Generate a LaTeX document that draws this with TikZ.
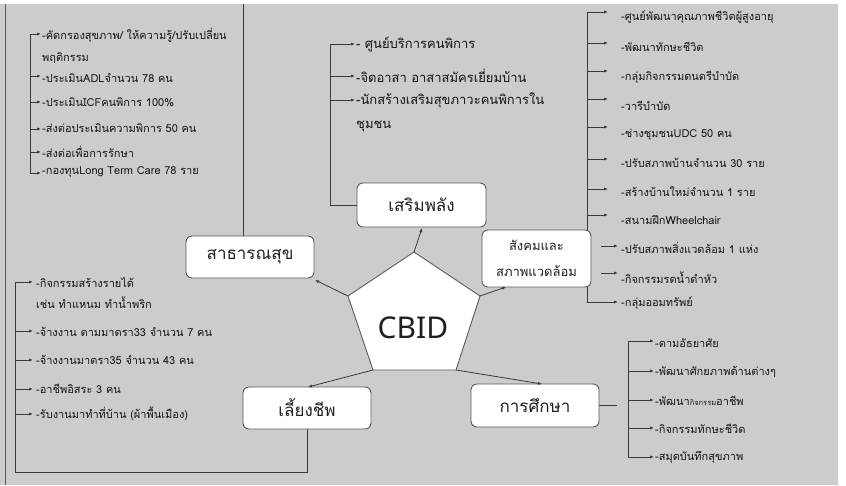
\documentclass[tikz,border=0pt]{standalone}
\usepackage{fontspec}
\newfontfamily\thai[Script=Thai]{Loma}
\newfontfamily\cbidfont{Noto Sans}
\usetikzlibrary{arrows.meta}
\definecolor{bg}{HTML}{CBCCCE}
\definecolor{ln}{HTML}{3A3A3A}
\definecolor{bd}{HTML}{5A5A5A}
\tikzset{
  ln/.style={draw=ln, line width=0.8pt},
  arr/.style={draw=ln, line width=0.8pt, -{Latex[length=4pt,width=3.2pt]}},
  box/.style={draw=bd, line width=0.9pt, fill=white, rounded corners=6pt, inner sep=0pt, text=black!88},
  bigfont/.style={font=\thai\fontsize{17}{20}\selectfont},
  item/.style={anchor=west, inner sep=1pt, text=black!92, font=\thai\fontsize{11}{13}\selectfont},
  itemb/.style={anchor=west, inner sep=1pt, text=black!92, font=\thai\fontsize{13}{15}\selectfont},
}
\begin{document}
\begin{tikzpicture}[x=1pt,y=-1pt]
\fill[white] (0,0) rectangle (846,485);
\fill[bg] (0,4) rectangle (838,485);
\useasboundingbox (0,0) rectangle (846,485);
\coordinate (lbT) at (5,4);
\coordinate (lbB) at (5,485);
\draw[ln, draw=bd] (lbT) -- (lbB);

% ---------- boxes ----------
\node[box, bigfont, minimum width=129pt, minimum height=44pt] (sp) at (421.5,205) {เสริมพลัง};
\node[box, bigfont, minimum width=128pt, minimum height=42pt] (ph) at (250,257) {สาธารณสุข};
\node[box, font=\thai\fontsize{13}{26}\selectfont, align=center, minimum width=109pt, minimum height=57pt] (so) at (536.5,258.5) {สังคมและ\\สภาพแวดล้อม};
\node[box, bigfont, minimum width=128pt, minimum height=42pt] (lv) at (307,408) {เลี้ยงชีพ};
\node[box, bigfont, minimum width=128pt, minimum height=43pt] (ed) at (535,405.5) {การศึกษา};

% ---------- pentagon ----------
\coordinate (p1) at (414,252);
\coordinate (p2) at (348,296);
\coordinate (p3) at (373,370);
\coordinate (p4) at (456,370);
\coordinate (p5) at (480,296);
\draw[draw=bd, line width=0.9pt, fill=white] (p1) -- (p2) -- (p3) -- (p4) -- (p5) -- cycle;
\node[font=\cbidfont\fontsize{30}{32}\selectfont, text=black!88] (cbid) at (413,328) {CBID};

\coordinate (a1) at (422,228);
\coordinate (a2) at (315,280);
\coordinate (a3) at (506,287);
\coordinate (a4) at (308,387);
\coordinate (a5) at (542,384);
\draw[arr] (p1) -- (a1);
\draw[arr] (p2) -- (a2);
\draw[arr] (p5) -- (a3);
\draw[arr] (p3) -- (a4);
\draw[arr] (p4) -- (a5);

% ---------- line from top to สาธารณสุข ----------
\coordinate (phT) at (243,4);
\draw[ln] (phT) -- (phT |- ph.north);

% ---------- top-left list ----------
\node[item] (tl1) at (41,35) {-คัดกรองสุขภาพ/ ให้ความรู้/ปรับเปลี่ยน};
\node[item] (tl1b) at (41,58) {พฤติกรรม};
\node[item] (tl2) at (41,78) {-ประเมินADLจำนวน 78 คน};
\node[item] (tl3) at (41,102) {-ประเมินICFคนพิการ 100\%};
\node[item] (tl4) at (41,128) {-ส่งต่อประเมินความพิการ 50 คน};
\node[item] (tl5) at (41,152) {-ส่งต่อเพื่อการรักษา};
\node[item] (tl6) at (41,172) {-กองทุนLong Term Care 78 ราย};
\coordinate (tlc1) at (30,34);
\coordinate (tlc2) at (30,76);
\coordinate (tlc3) at (30,102);
\coordinate (tlc4) at (30,129);
\coordinate (tlc5) at (30,152);
\coordinate (tlc6) at (30,173);
\draw[ln] (tlc1) -- (tlc6);
\draw[arr] (tlc1) -- (tlc1 -| tl1.west);
\draw[arr] (tlc2) -- (tlc2 -| tl2.west);
\draw[arr] (tlc3) -- (tlc3 -| tl3.west);
\draw[arr] (tlc4) -- (tlc4 -| tl4.west);
\draw[arr] (tlc5) -- (tlc5 -| tl5.west);
\draw[arr] (tlc6) -- (tlc6 -| tl6.west);

% ---------- top-middle list ----------
\node[itemb] (tm1) at (355,44) {- ศูนย์บริการคนพิการ};
\node[itemb] (tm2) at (355,76) {-จิตอาสา อาสาสมัครเยี่ยมบ้าน};
\node[itemb] (tm3) at (355,100) {-นักสร้างเสริมสุขภาวะคนพิการใน};
\node[itemb] (tm3b) at (355,126) {ชุมชน};
\coordinate (tmc1) at (330,44);
\coordinate (tmc2) at (330,76);
\coordinate (tmc3) at (330,100);
\draw[ln] (tmc1) |- (sp.west);
\draw[arr] (tmc1) -- (tmc1 -| tm1.west);
\draw[arr] (tmc2) -- (tmc2 -| tm2.west);
\draw[arr] (tmc3) -- (tmc3 -| tm3.west);

% ---------- right list ----------
\node[item] (r1) at (620,17) {-ศูนย์พัฒนาคุณภาพชีวิตผู้สูงอายุ};
\node[item] (r2) at (620,47) {-พัฒนาทักษะชีวิต};
\node[item] (r3) at (620,77) {-กลุ่มกิจกรรมดนตรีบำบัด};
\node[item] (r4) at (620,106) {-วารีบำบัด};
\node[item] (r5) at (620,135) {-ช่างชุมชนUDC 50 คน};
\node[item] (r6) at (620,163) {-ปรับสภาพบ้านจำนวน 30 ราย};
\node[item] (r7) at (620,192) {-สร้างบ้านใหม่จำนวน 1 ราย};
\node[item] (r8) at (620,220) {-สนามฝึกWheelchair};
\node[item] (r9) at (620,248) {-ปรับสภาพสิ่งแวดล้อม 1 แห่ง};
\node[item] (r10) at (620,278) {-กิจกรรมรดน้ำดำหัว};
\node[item] (r11) at (620,303) {-กลุ่มออมทรัพย์};
\coordinate (rc1) at (587,12);
\coordinate (rc2) at (587,43);
\coordinate (rc3) at (587,71);
\coordinate (rc4) at (587,99);
\coordinate (rc5) at (587,127);
\coordinate (rc6) at (587,159);
\coordinate (rc7) at (587,189);
\coordinate (rc8) at (587,215);
\coordinate (rc9) at (601,246);
\coordinate (rc10) at (601,273);
\coordinate (rc11) at (587,302);
\draw[ln] (rc1) -- (rc1 |- so.north);
\draw[arr, shorten >=12pt] (rc1) -- (rc1 -| r1.west);
\draw[arr, shorten >=12pt] (rc2) -- (rc2 -| r2.west);
\draw[arr, shorten >=12pt] (rc3) -- (rc3 -| r3.west);
\draw[arr, shorten >=12pt] (rc4) -- (rc4 -| r4.west);
\draw[arr, shorten >=12pt] (rc5) -- (rc5 -| r5.west);
\draw[arr, shorten >=12pt] (rc6) -- (rc6 -| r6.west);
\draw[arr, shorten >=12pt] (rc7) -- (rc7 -| r7.west);
\draw[arr, shorten >=12pt] (rc8) -- (rc8 -| r8.west);
\draw[arr, shorten >=2pt] (rc9) -- (rc9 -| r9.west);
\draw[arr, shorten >=2pt] (rc10) -- (rc10 -| r10.west);
\draw[arr, shorten >=2pt] (rc11 |- so.south) -- (rc11) -- (rc11 -| r11.west);

% ---------- bottom-left list ----------
\node[item] (bl1) at (35,283) {-กิจกรรมสร้างรายได้};
\node[item] (bl1b) at (35,303) {เช่น ทำแหนม ทำน้ำพริก};
\node[item] (bl2) at (35,332) {-จ้างงาน ตามมาตรา33 จำนวน 7 คน};
\node[item] (bl3) at (35,360) {-จ้างงานมาตรา35 จำนวน 43 คน};
\node[item] (bl4) at (35,389) {-อาชีพอิสระ 3 คน};
\node[item] (bl5) at (35,414) {-รับงานมาทำที่บ้าน (ผ้าพื้นเมือง)};
\coordinate (blc1) at (15,282);
\coordinate (blc2) at (15,331);
\coordinate (blc3) at (15,360);
\coordinate (blc4) at (15,389);
\coordinate (blc5) at (15,414);
\coordinate (blb) at (15,472);
\draw[arr, shorten >=2pt] (lv.south) |- (blb) -- (blc1) -- (blc1 -| bl1.west);
\draw[arr, shorten >=2pt] (blc2) -- (blc2 -| bl2.west);
\draw[arr, shorten >=2pt] (blc3) -- (blc3 -| bl3.west);
\draw[arr, shorten >=2pt] (blc4) -- (blc4 -| bl4.west);
\draw[arr, shorten >=2pt] (blc5) -- (blc5 -| bl5.west);

% ---------- bottom-right list ----------
\node[item] (br1) at (654,343) {-ตามอัธยาศัย};
\node[item] (br2) at (654,372) {-พัฒนาศักยภาพด้านต่างๆ};
\node[item] (br3) at (654,401) {-พัฒนา{\fontsize{7.5}{8}\selectfont กิจกรรม}อาชีพ};
\node[item] (br4) at (654,429) {-กิจกรรมทักษะชีวิต};
\node[item] (br5) at (654,457) {-สมุดบันทึกสุขภาพ};
\coordinate (brc1) at (628,341);
\coordinate (brc2) at (628,371);
\coordinate (brc3) at (628,400);
\coordinate (brc4) at (628,428);
\coordinate (brc5) at (628,457);
\coordinate (edr) at (617,405.5);
\draw[ln] (ed.east) -- (edr);
\draw[ln] (brc1) -- (brc5);
\draw[arr] (brc1) -- (brc1 -| br1.west);
\draw[arr] (brc2) -- (brc2 -| br2.west);
\draw[arr] (brc3) -- (brc3 -| br3.west);
\draw[arr] (brc4) -- (brc4 -| br4.west);
\draw[arr] (brc5) -- (brc5 -| br5.west);
\end{tikzpicture}
\end{document}
